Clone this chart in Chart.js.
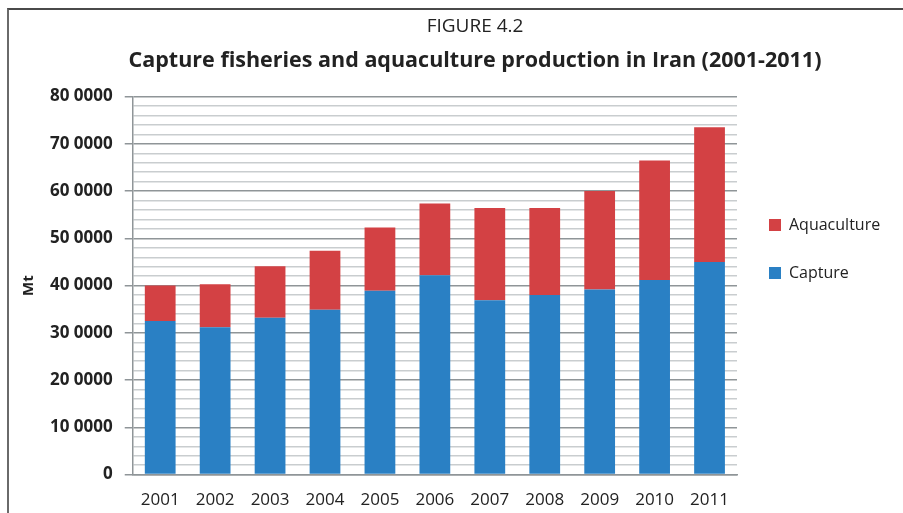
<!DOCTYPE html>
<html>
<head>
<meta charset="utf-8">
<script src="https://cdn.jsdelivr.net/npm/chart.js@4.4.0/dist/chart.umd.min.js"></script>
<style>
  html, body { margin: 0; padding: 0; background: #fff; }
  #wrap { position: relative; width: 903px; height: 513px; overflow: hidden; }
  #frame { position: absolute; left: 7px; top: 8px; width: 980px; height: 540px;
           border-left: 2px solid #6a6a6a; border-top: 2px solid #4a4a4a; }
  #c { position: absolute; left: 0; top: 0; }
</style>
</head>
<body>
<div id="wrap">
  <div id="frame"></div>
  <!-- the figure panel runs on past the right edge of the page -->
  <canvas id="c" width="950" height="513"></canvas>
</div>
<script>
// Production in tonnes, 2001-2011
const years = ['2001', '2002', '2003', '2004', '2005', '2006', '2007', '2008', '2009', '2010', '2011'];
const capture = [325000, 312000, 332000, 349000, 389000, 422000, 369000, 380000, 392000, 412000, 450000];
const aquaculture = [75000, 91000, 109000, 125000, 134000, 152000, 195000, 184000, 208000, 253000, 285000];

// Axis labels as printed on the figure (one per 100 000 t)
const yTickLabels = ['0', '10 0000', '20 0000', '30 0000', '40 0000', '50 0000', '60 0000', '70 0000', '80 0000'];

const TEXT = '#222222';
const FONT = "'Open Sans', 'DejaVu Sans', sans-serif";
const MAJOR = 100000;

new Chart(document.getElementById('c'), {
  type: 'bar',
  data: {
    labels: years,
    datasets: [
      { label: 'Capture', data: capture, backgroundColor: '#2a80c4' },
      { label: 'Aquaculture', data: aquaculture, backgroundColor: '#d34144' }
    ]
  },
  options: {
    responsive: false,
    animation: false,
    events: [],
    layout: { padding: { left: 16, right: 16, top: 0, bottom: -12 } },
    datasets: { bar: { barPercentage: 0.56, categoryPercentage: 1.0 } },
    scales: {
      x: {
        stacked: true,
        grid: { display: false, drawTicks: false },
        border: { display: true, color: '#8f9598', width: 1.5 },
        ticks: { color: TEXT, font: { family: FONT, size: 17 }, padding: 15, maxRotation: 0 }
      },
      y: {
        stacked: true,
        min: 0,
        max: 800000,
        ticks: {
          stepSize: 20000,
          autoSkip: false,
          color: TEXT,
          padding: 12,
          font: { family: FONT, size: 17, weight: 'bold' },
          callback: (v) => (v % MAJOR === 0 ? yTickLabels[v / MAJOR] : '')
        },
        grid: {
          tickLength: 8,
          lineWidth: 1.5,
          color: (ctx) => (ctx.tick && ctx.tick.value % MAJOR === 0 ? '#8f9598' : '#c9cdcf'),
          tickColor: (ctx) => (ctx.tick && ctx.tick.value % MAJOR === 0 ? '#8f9598' : 'rgba(0,0,0,0)')
        },
        border: { display: true, color: '#8f9598', width: 1.5 },
        title: {
          display: true,
          text: 'Mt',
          color: TEXT,
          font: { family: FONT, size: 15, weight: 'bold' },
          padding: { top: 4, bottom: 0 }
        }
      },
      // empty margin strip kept outside the legend, on the far right
      gutter: {
        type: 'linear',
        axis: 'y',
        position: 'right',
        weight: 2000,
        ticks: { display: false },
        grid: { display: false, drawTicks: false },
        border: { display: false },
        afterFit: (scale) => { scale.width = 44; }
      }
    },
    plugins: {
      title: {
        display: true,
        text: 'FIGURE 4.2',
        color: TEXT,
        font: { family: FONT, size: 19, weight: 'normal' },
        padding: { top: 15, bottom: 2 }
      },
      subtitle: {
        display: true,
        text: 'Capture fisheries and aquaculture production in Iran (2001-2011)',
        color: TEXT,
        font: { family: FONT, size: 21.5, weight: 'bold' },
        padding: { top: 8, bottom: 23 }
      },
      legend: {
        position: 'right',
        align: 'start',
        reverse: true,
        title: { display: true, text: '', font: { size: 10 }, padding: { top: 173, bottom: 0 } },
        labels: {
          boxWidth: 12,
          boxHeight: 12,
          padding: 32,
          color: TEXT,
          font: { family: FONT, size: 16, lineHeight: 0.875 }
        }
      },
      tooltip: { enabled: false }
    }
  }
});
</script>
</body>
</html>
